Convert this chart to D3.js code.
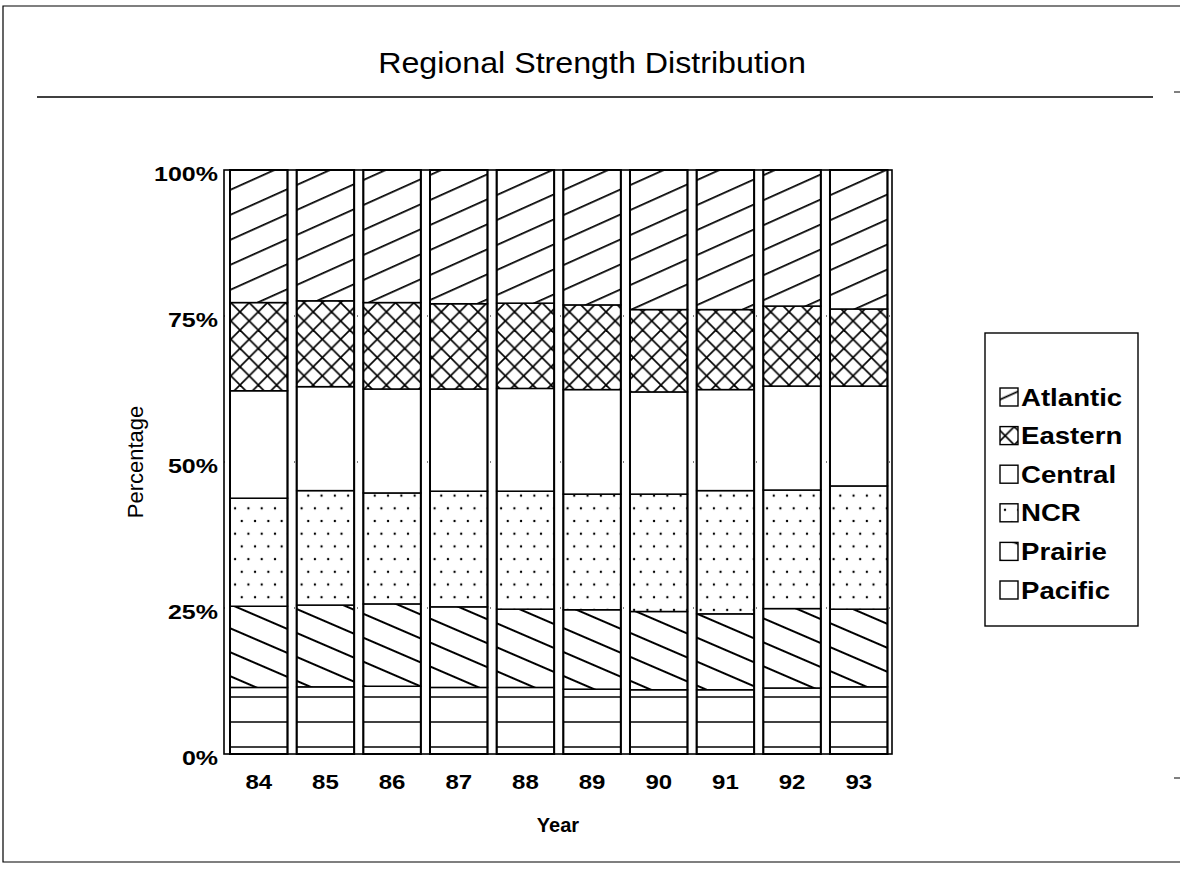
<!DOCTYPE html>
<html>
<head>
<meta charset="utf-8">
<script src="https://cdn.jsdelivr.net/npm/d3@7"></script>
<style>
  html, body { margin: 0; padding: 0; background: #fff; }
  svg { display: block; }
  text { font-family: "Liberation Sans", Arial, Helvetica, sans-serif; fill: #000; }
</style>
</head>
<body>
<svg id="chart" width="1183" height="890"></svg>
<script>
// Share of total strength by region, fiscal years 84–93 (percent of each year's total)
const years = ["84", "85", "86", "87", "88", "89", "90", "91", "92", "93"];
const regions = ["Pacific", "Prairie", "NCR", "Central", "Eastern", "Atlantic"];
const pacific  = [11.4, 11.5, 11.6, 11.4, 11.4, 11.1, 11.0, 11.0, 11.3, 11.5];
const prairie  = [13.9, 14.0, 14.1, 13.8, 13.4, 13.6, 13.4, 13.0, 13.6, 13.3];
const ncr      = [18.5, 19.6, 19.0, 19.8, 20.2, 19.8, 20.1, 21.1, 20.3, 21.1];
const central  = [18.4, 17.8, 17.8, 17.5, 17.6, 17.9, 17.5, 17.3, 17.8, 17.1];
const eastern  = [15.1, 14.7, 14.8, 14.6, 14.6, 14.5, 14.1, 13.7, 13.7, 13.2];
const atlantic = [22.7, 22.4, 22.7, 22.9, 22.8, 23.1, 23.9, 23.9, 23.3, 23.8];
const yTicks = [0, 25, 50, 75, 100];
const legendOrder = ["Atlantic", "Eastern", "Central", "NCR", "Prairie", "Pacific"];

const seriesValues = {
  Pacific: pacific, Prairie: prairie, NCR: ncr,
  Central: central, Eastern: eastern, Atlantic: atlantic
};
const rows = years.map((yr, i) => {
  const r = { year: yr };
  regions.forEach(k => { r[k] = seriesValues[k][i]; });
  return r;
});

const svg = d3.select("#chart");
const defs = svg.append("defs");

// widen text horizontally (the lettering is an extended sans)
function stretch(sel, sx) {
  sel.each(function () {
    const w = this.getComputedTextLength();
    d3.select(this).attr("textLength", w * sx).attr("lengthAdjust", "spacingAndGlyphs");
  });
}

// ---- fill patterns (black line art on white) ----
function hatch(id, angle, spacing, offset, sw) {
  const p = defs.append("pattern").attr("id", id)
    .attr("patternUnits", "userSpaceOnUse")
    .attr("width", 40).attr("height", spacing)
    .attr("patternTransform", `rotate(${angle})`);
  p.append("rect").attr("width", 40).attr("height", spacing).attr("fill", "#fff");
  p.append("line").attr("x1", -1).attr("x2", 41)
    .attr("y1", offset).attr("y2", offset)
    .attr("stroke", "#000").attr("stroke-width", sw);
}
function cross(id, size, ox, oy) {
  const p = defs.append("pattern").attr("id", id)
    .attr("patternUnits", "userSpaceOnUse")
    .attr("x", ox).attr("y", oy)
    .attr("width", size).attr("height", size);
  p.append("rect").attr("width", size).attr("height", size).attr("fill", "#fff");
  p.append("line").attr("x1", -1).attr("y1", -1).attr("x2", size + 1).attr("y2", size + 1)
    .attr("stroke", "#000").attr("stroke-width", 1.7);
  p.append("line").attr("x1", -1).attr("y1", size + 1).attr("x2", size + 1).attr("y2", -1)
    .attr("stroke", "#000").attr("stroke-width", 1.7);
}
function dots(id, w, h, ox, oy) {
  const p = defs.append("pattern").attr("id", id)
    .attr("patternUnits", "userSpaceOnUse")
    .attr("x", ox).attr("y", oy)
    .attr("width", w).attr("height", h);
  p.append("rect").attr("width", w).attr("height", h).attr("fill", "#fff");
  [[0, 0], [w, 0], [0, h], [w, h], [w / 2, h / 2]].forEach(([cx, cy]) => {
    p.append("circle").attr("cx", cx).attr("cy", cy).attr("r", 1.2).attr("fill", "#000");
  });
}
function rules(id, spacing, offset) {
  const p = defs.append("pattern").attr("id", id)
    .attr("patternUnits", "userSpaceOnUse")
    .attr("width", 40).attr("height", spacing);
  p.append("rect").attr("width", 40).attr("height", spacing).attr("fill", "#fff");
  p.append("line").attr("x1", -1).attr("x2", 41)
    .attr("y1", offset).attr("y2", offset)
    .attr("stroke", "#000").attr("stroke-width", 1.6);
}

// bar fills
hatch("bar-Atlantic", -24.2, 22.8, 16.8, 1.8);
cross("bar-Eastern", 18.3, 2.1, 0.7);
dots("bar-NCR", 13.3, 25.4, 9, 0.3);
hatch("bar-Prairie", 23.3, 22.0, 2, 2);
rules("bar-Pacific", 25, 22);
// legend swatch fills (anchored at each swatch corner)
hatch("key-Atlantic", -24.2, 22.8, 10.5, 1.6);
cross("key-Eastern", 18.3, -4, 0);
dots("key-NCR", 13.3, 25.4, 5, 6);
hatch("key-Prairie", 23.3, 22.0, 16.5, 1.6);
rules("key-Pacific", 25, 22);

function fillFor(prefix, key) {
  return key === "Central" ? "#fff" : `url(#${prefix}-${key})`;
}

// ---- scales ----
const frame = { left: 224, right: 892, top: 170, bottom: 754 };
const x = d3.scaleBand().domain(years)
  .range([frame.left, frame.right])
  .paddingInner(0.1375).paddingOuter(0.079).align(0.57);
const y = d3.scaleLinear().domain([0, 100]).range([frame.bottom, frame.top]);

const stacked = d3.stack().keys(regions)(rows);

// ---- page border and title ----
svg.append("path")
  .attr("d", "M1180,6 H3 V862 H1180")
  .attr("fill", "none").attr("stroke", "#000").attr("stroke-width", 1.2);
svg.append("line").attr("x1", 1174).attr("x2", 1180).attr("y1", 92).attr("y2", 92)
  .attr("stroke", "#000").attr("stroke-width", 1);
svg.append("line").attr("x1", 1174).attr("x2", 1180).attr("y1", 778).attr("y2", 778)
  .attr("stroke", "#000").attr("stroke-width", 1);

const title = svg.append("text").attr("x", 592).attr("y", 73)
  .attr("text-anchor", "middle").attr("font-size", 29)
  .text("Regional Strength Distribution");
stretch(title, 1.11);
svg.append("line").attr("x1", 37).attr("x2", 1153).attr("y1", 97).attr("y2", 97)
  .attr("stroke", "#000").attr("stroke-width", 1.6);

// ---- light dotted guides ----
svg.append("g").selectAll("line").data([25, 50, 75]).join("line")
  .attr("x1", frame.left).attr("x2", frame.right)
  .attr("y1", d => y(d)).attr("y2", d => y(d))
  .attr("stroke", "#000").attr("stroke-width", 1)
  .attr("stroke-dasharray", "1,6");

// ---- stacked bars ----
const barG = svg.append("g");
barG.selectAll("g.series").data(stacked).join("g").attr("class", "series")
  .each(function (s) {
    d3.select(this).selectAll("rect").data(s).join("rect")
      .attr("x", d => x(d.data.year))
      .attr("width", x.bandwidth())
      .attr("y", d => y(d[1]))
      .attr("height", d => y(d[0]) - y(d[1]))
      .attr("fill", fillFor("bar", s.key))
      .attr("stroke", "#000").attr("stroke-width", 1.5);
  });
// heavier outline round each whole bar
barG.selectAll("rect.outline").data(rows).join("rect").attr("class", "outline")
  .attr("x", d => x(d.year)).attr("width", x.bandwidth())
  .attr("y", d => y(d3.sum(regions, k => d[k])))
  .attr("height", d => y(0) - y(d3.sum(regions, k => d[k])))
  .attr("fill", "none").attr("stroke", "#000").attr("stroke-width", 2);

svg.append("rect")
  .attr("x", frame.left).attr("y", frame.top)
  .attr("width", frame.right - frame.left).attr("height", frame.bottom - frame.top)
  .attr("fill", "none").attr("stroke", "#000").attr("stroke-width", 1.6);

// ---- axes ----
const yAxis = d3.axisLeft(y).tickValues(yTicks).tickSize(0).tickPadding(0)
  .tickFormat(d => d + "%");
const yG = svg.append("g").attr("transform", `translate(${frame.left - 6},3)`).call(yAxis);
yG.select(".domain").remove();
yG.attr("font-family", null).attr("font-size", null);
const yLabels = yG.selectAll("text").attr("font-size", 20).attr("font-weight", "bold")
  .attr("dy", "0.36em");
stretch(yLabels, 1.25);

const xAxis = d3.axisBottom(x).tickSize(0).tickPadding(0);
const xG = svg.append("g").attr("transform", `translate(0,${frame.bottom + 28})`).call(xAxis);
xG.select(".domain").remove();
xG.attr("font-family", null).attr("font-size", null);
const xLabels = xG.selectAll("text").attr("font-size", 20).attr("font-weight", "bold")
  .attr("dy", "0.36em");
stretch(xLabels, 1.2);

svg.append("text")
  .attr("transform", `translate(143,${y(50)}) rotate(-90)`)
  .attr("text-anchor", "middle").attr("font-size", 22)
  .text("Percentage");
svg.append("text").attr("x", (frame.left + frame.right) / 2).attr("y", 832)
  .attr("text-anchor", "middle").attr("font-size", 20).attr("font-weight", "bold")
  .text("Year");

// ---- legend ----
const legend = svg.append("g");
legend.append("rect").attr("x", 985).attr("y", 333).attr("width", 153).attr("height", 293)
  .attr("fill", "#fff").attr("stroke", "#000").attr("stroke-width", 1.4);
const item = legend.selectAll("g.item").data(legendOrder).join("g").attr("class", "item")
  .attr("transform", (d, i) => `translate(1000,${388 + i * 38.6})`);
item.append("rect").attr("width", 18).attr("height", 18)
  .attr("fill", d => fillFor("key", d))
  .attr("stroke", "#000").attr("stroke-width", 1.4);
const keyText = item.append("text").attr("x", 21).attr("y", 9).attr("dy", "0.36em")
  .attr("font-size", 24).attr("font-weight", "bold")
  .text(d => d);
stretch(keyText, 1.15);
</script>
</body>
</html>
